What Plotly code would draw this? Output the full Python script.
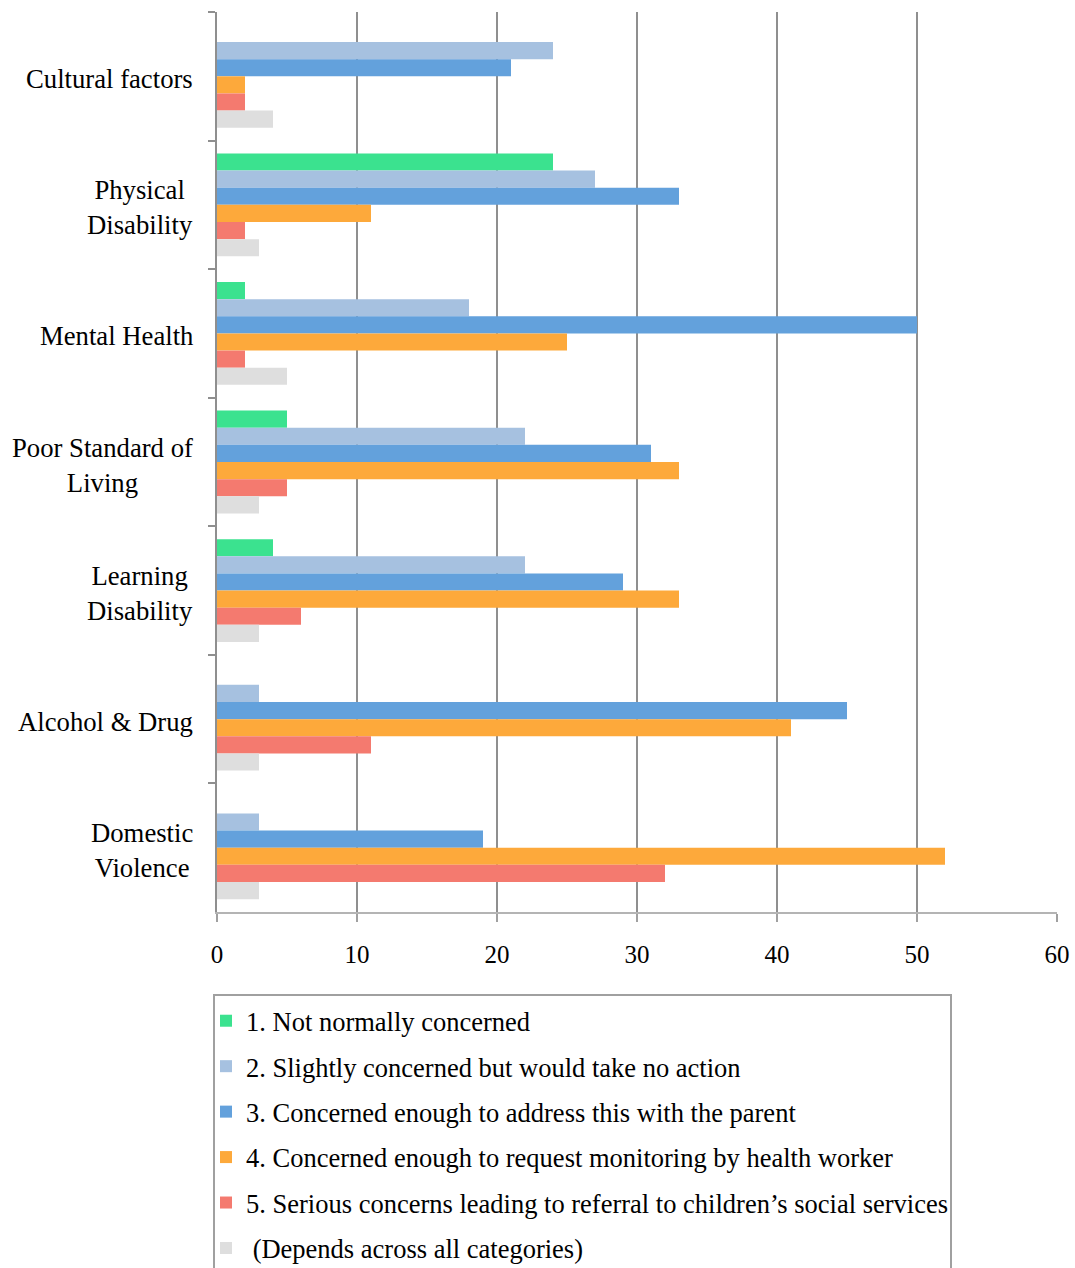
import plotly.graph_objects as go

# Categories, top to bottom
categories = [
    "Cultural factors",
    "Physical Disability",
    "Mental Health",
    "Poor Standard of Living",
    "Learning Disability",
    "Alcohol & Drug",
    "Domestic Violence",
]
category_labels = [
    "Cultural factors",
    "Physical<br>Disability",
    "Mental Health",
    "Poor Standard of<br>Living",
    "Learning<br>Disability",
    "Alcohol & Drug",
    "Domestic<br>Violence",
]

series_names = [
    "1. Not normally concerned",
    "2. Slightly concerned but would take no action",
    "3. Concerned enough to address this with the parent",
    "4. Concerned enough to request monitoring by health worker",
    "5. Serious concerns leading to referral to children\u2019s social services",
    " (Depends across all categories)",
]

not_concerned = [0, 24, 2, 5, 4, 0, 0]
slightly_concerned = [24, 27, 18, 22, 22, 3, 3]
address_with_parent = [21, 33, 50, 31, 29, 45, 19]
request_monitoring = [2, 11, 25, 33, 33, 41, 52]
referral = [2, 2, 2, 5, 6, 11, 32]
depends = [4, 3, 5, 3, 3, 3, 3]

x_ticks = [0, 10, 20, 30, 40, 50, 60]

series_values = [
    not_concerned,
    slightly_concerned,
    address_with_parent,
    request_monitoring,
    referral,
    depends,
]
colors = ["#3be28f", "#a6c1e0", "#63a1dc", "#fda93b", "#f47a6f", "#dedede"]

FONT = "Liberation Serif"
L, R, T, B = 217, 18, 12, 356
W, H = 1075, 1268
PW, PH = W - L - R, H - T - B


def px_x(px):
    return (px - L) / PW


def px_y(py):
    return (H - B - py) / PH


fig = go.Figure()
for i, (name, vals, col) in enumerate(zip(series_names, series_values, colors)):
    fig.add_trace(
        go.Bar(
            y=categories,
            x=vals,
            name=name,
            orientation="h",
            marker=dict(color=col, line=dict(width=0)),
            legendgroup=f"g{i}",
            hoverinfo="skip",
        )
    )

# Category labels, centred line by line
for cat, lab in zip(categories, category_labels):
    fig.add_annotation(
        x=0, xref="paper", y=cat, yref="y",
        text=lab, showarrow=False,
        xanchor="right", yanchor="middle", align="center",
        xshift=-22, yshift=-3,
        font=dict(family=FONT, size=26.7, color="#000000"),
    )

# Legend frame
fig.add_shape(
    type="rect", xref="paper", yref="paper",
    x0=px_x(214), x1=px_x(951), y0=px_y(995), y1=px_y(1300),
    line=dict(color="#a0a0a0", width=2), fillcolor="rgba(0,0,0,0)",
    layer="above",
)

fig.update_layout(
    width=W,
    height=H,
    margin=dict(l=L, r=R, t=T, b=B, autoexpand=False),
    paper_bgcolor="white",
    plot_bgcolor="white",
    barmode="group",
    bargap=0.2,
    bargroupgap=0,
    showlegend=True,
    legend=dict(
        x=px_x(206), xanchor="left",
        y=px_y(997), yanchor="top",
        orientation="v",
        traceorder="grouped",
        borderwidth=0,
        bgcolor="rgba(0,0,0,0)",
        font=dict(family=FONT, size=26.5, color="#000000"),
        tracegroupgap=8,
        itemwidth=30,
    ),
    xaxis=dict(
        range=[0, 60],
        tickvals=x_ticks,
        ticktext=[str(v) for v in x_ticks],
        showgrid=True,
        gridcolor="#8f8f8f",
        gridwidth=2,
        zeroline=False,
        showline=True,
        linecolor="#b4b4b4",
        linewidth=2,
        ticks="outside",
        ticklen=8,
        tickwidth=2,
        tickcolor="#a0a0a0",
        ticklabelstandoff=11,
        tickfont=dict(family=FONT, size=25, color="#000000"),
    ),
    yaxis=dict(
        autorange="reversed",
        type="category",
        showticklabels=False,
        showgrid=False,
        zeroline=False,
        showline=True,
        linecolor="#8f8f8f",
        linewidth=2,
        ticks="outside",
        tickson="boundaries",
        ticklen=7,
        tickwidth=2,
        tickcolor="#8f8f8f",
    ),
)

fig.write_html("out.html", config={"displayModeBar": False})
